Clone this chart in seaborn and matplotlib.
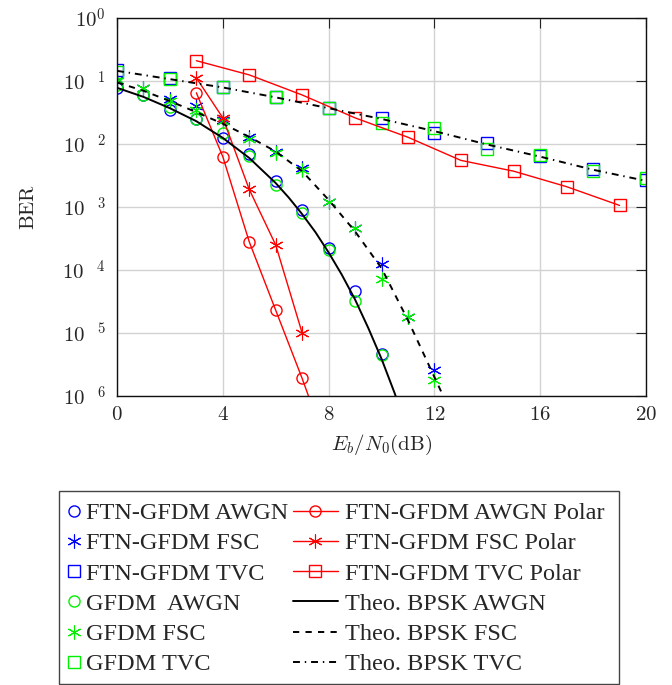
import matplotlib
matplotlib.use("Agg")
import matplotlib.pyplot as plt
from matplotlib.patches import Rectangle
from matplotlib.ticker import NullLocator
import seaborn as sns

# ---- simulated BER (Eb/N0 in dB) ----
snr_awgn = [0, 1, 2, 3, 4, 5, 6, 7, 8, 9, 10]
ftn_awgn = [0.077, 0.061, 0.035, 0.0245, 0.0125, 0.0070, 0.0026, 9.1e-4, 2.2e-4, 4.6e-5, 4.6e-6]
gfdm_awgn = [0.087, 0.061, 0.038, 0.0245, 0.0152, 0.0065, 0.0022, 7.9e-4, 2.1e-4, 3.2e-5, 4.5e-6]

snr_fsc = [0, 1, 2, 3, 4, 5, 6, 7, 8, 9, 10, 11, 12]
ftn_fsc = [0.105, 0.077, 0.052, 0.040, 0.024, 0.0129, 0.0076, 0.0042, 0.00118, 4.6e-4, 1.26e-4, 1.8e-5, 2.6e-6]
gfdm_fsc = [0.099, 0.077, 0.048, 0.035, 0.023, 0.012, 0.0072, 0.0039, 0.00118, 4.6e-4, 7.2e-5, 1.8e-5, 1.8e-6]

snr_tvc = [0, 2, 4, 6, 8, 10, 12, 14, 16, 18, 20]
ftn_tvc = [0.15, 0.111, 0.080, 0.056, 0.037, 0.026, 0.0148, 0.0103, 0.0065, 0.0040, 0.0027]
gfdm_tvc = [0.139, 0.108, 0.079, 0.055, 0.037, 0.0215, 0.018, 0.0084, 0.0066, 0.0037, 0.0029]

# ---- polar-coded FTN-GFDM ----
snr_pol_awgn = [3, 4, 5, 6, 7, 8]
pol_awgn = [0.065, 0.0063, 2.8e-4, 2.3e-5, 1.9e-6, 1.3e-7]
snr_pol_fsc = [3, 4, 5, 6, 7]
pol_fsc = [0.112, 0.026, 0.0019, 2.5e-4, 1.0e-5]
snr_pol_tvc = [3, 5, 7, 9, 11, 13, 15, 17, 19]
pol_tvc = [0.21, 0.125, 0.060, 0.026, 0.0128, 0.0055, 0.0037, 0.0021, 0.00106]

# ---- theoretical BPSK ----
snr_th_awgn = [0, 1, 2, 3, 4, 5, 6, 6.5, 7, 7.5, 8, 8.5, 9, 9.5, 10, 10.5, 11]
th_awgn = [0.078, 0.056, 0.037, 0.023, 0.0125, 0.006, 0.0024, 1.4e-3, 7.7e-4, 4.0e-4,
           1.9e-4, 8.4e-5, 3.4e-5, 1.2e-5, 3.9e-6, 1.1e-6, 2.6e-7]
snr_th_fsc = [0, 1, 2, 3, 4, 5, 6, 7, 8, 9, 10, 11, 12, 13]
th_fsc = [0.095, 0.07, 0.048, 0.032, 0.021, 0.013, 0.0076, 0.0037, 0.0013, 4.1e-4,
          1.07e-4, 1.6e-5, 2.0e-6, 2.5e-7]
snr_th_tvc = [0, 2, 4, 6, 8, 10, 12, 14, 16, 18, 20]
th_tvc = [0.145, 0.107, 0.079, 0.055, 0.037, 0.025, 0.016, 0.0098, 0.0063, 0.0039, 0.0026]

x_ticks = [0, 4, 8, 12, 16, 20]
y_ticks = [1e0, 1e-1, 1e-2, 1e-3, 1e-4, 1e-5, 1e-6]
y_tick_labels = [r"$10^{0}$"] + [r"$10^{\quad %d}$" % k for k in range(1, 7)]

sns.set_style("white")
plt.rcParams.update({
    "font.family": ["Liberation Serif", "DejaVu Serif"],
    "mathtext.fontset": "cm",
    "lines.scale_dashes": False,
})

W, H = 672, 685
fig = plt.figure(figsize=(W / 100, H / 100), dpi=100)
ax = fig.add_axes([117 / W, 1 - 396 / H, (646 - 117) / W, (396 - 18) / H])
ax.set_yscale("log")

BLUE, GREEN, RED, BLACK = "#0000ff", "#00f000", "#ff0000", "#000000"
STAR = (6, 2, 0)


def series(x, y, label, color, marker=None, ms=8.0, mew=1.0, ls="", lw=1.0, z=2):
    sns.lineplot(x=x, y=y, ax=ax, label=label, color=color, marker=marker,
                 markersize=ms, markerfacecolor="none", markeredgecolor=color,
                 markeredgewidth=mew, linestyle=ls, linewidth=lw,
                 errorbar=None, legend=False, zorder=z)


series(snr_awgn, ftn_awgn, "FTN-GFDM AWGN", BLUE, "o")
series(snr_fsc, ftn_fsc, "FTN-GFDM FSC", BLUE, STAR, ms=10, mew=0.8)
series(snr_tvc, ftn_tvc, "FTN-GFDM TVC", BLUE, "s", ms=8.5)
series(snr_awgn, gfdm_awgn, "GFDM  AWGN", GREEN, "o")
series(snr_fsc, gfdm_fsc, "GFDM FSC", GREEN, STAR, ms=10, mew=0.8)
series(snr_tvc, gfdm_tvc, "GFDM TVC", GREEN, "s", ms=8.5)
series(snr_pol_awgn, pol_awgn, "FTN-GFDM AWGN Polar", RED, "o", ls="-", lw=1.0)
series(snr_pol_fsc, pol_fsc, "FTN-GFDM FSC Polar", RED, STAR, ms=10, mew=0.8, ls="-", lw=1.0)
series(snr_pol_tvc, pol_tvc, "FTN-GFDM TVC Polar", RED, "s", ms=8.5, ls="-", lw=1.0)
series(snr_th_awgn, th_awgn, "Theo. BPSK AWGN", BLACK, None, ls="-", lw=1.4, z=3)
series(snr_th_fsc, th_fsc, "Theo. BPSK FSC", BLACK, None, ls=(0, (4.5, 4.5)), lw=1.4, z=3)
series(snr_th_tvc, th_tvc, "Theo. BPSK TVC", BLACK, None, ls=(0, (5, 3.5, 1, 3.5)), lw=1.4, z=3)

ax.set_xlim(0, 20)
ax.set_ylim(1e-6, 1)
ax.set_xticks(x_ticks)
ax.set_xticklabels([r"$%d$" % v for v in x_ticks], fontsize=15)
ax.set_yticks(y_ticks)
ax.set_yticklabels(y_tick_labels, fontsize=15)
ax.yaxis.set_minor_locator(NullLocator())
ax.tick_params(axis="both", which="major", direction="in", length=7.5, width=0.8,
               top=True, right=True, color="#222222")
ax.tick_params(axis="x", pad=7)
ax.tick_params(axis="y", pad=8)
ax.grid(True, color="#d2d2d2", linewidth=1.0)
ax.set_axisbelow(True)
for sp in ax.spines.values():
    sp.set_color("#111111")
    sp.set_linewidth(1.0)

ax.set_xlabel(r"$E_b/N_0\mathrm{(dB)}$", fontsize=15, labelpad=6)
ax.set_ylabel(r"$\mathrm{BER}$", fontsize=15, labelpad=17)

# Two-column legend below the axes, sharing one frame
handles, labels = ax.get_legend_handles_labels()
fig.legend(handles[:6], labels[:6], loc="upper left",
           bbox_to_anchor=(66.7 / W, 1 - 502 / H), bbox_transform=fig.transFigure,
           frameon=False, handlelength=0.6, handletextpad=0.19, borderpad=0,
           borderaxespad=0, labelspacing=0.34, fontsize=17.5, numpoints=1)
fig.legend(handles[6:], labels[6:], loc="upper left",
           bbox_to_anchor=(293 / W, 1 - 502 / H), bbox_transform=fig.transFigure,
           frameon=False, handlelength=1.85, handletextpad=0.29, borderpad=0,
           borderaxespad=0, labelspacing=0.34, fontsize=17.5, numpoints=1)
fig.add_artist(Rectangle((59 / W, 1 - 684 / H), 560 / W, 193 / H,
                         transform=fig.transFigure, fill=False,
                         edgecolor="#444444", linewidth=1.0))

fig.savefig("out.png", dpi=100)
